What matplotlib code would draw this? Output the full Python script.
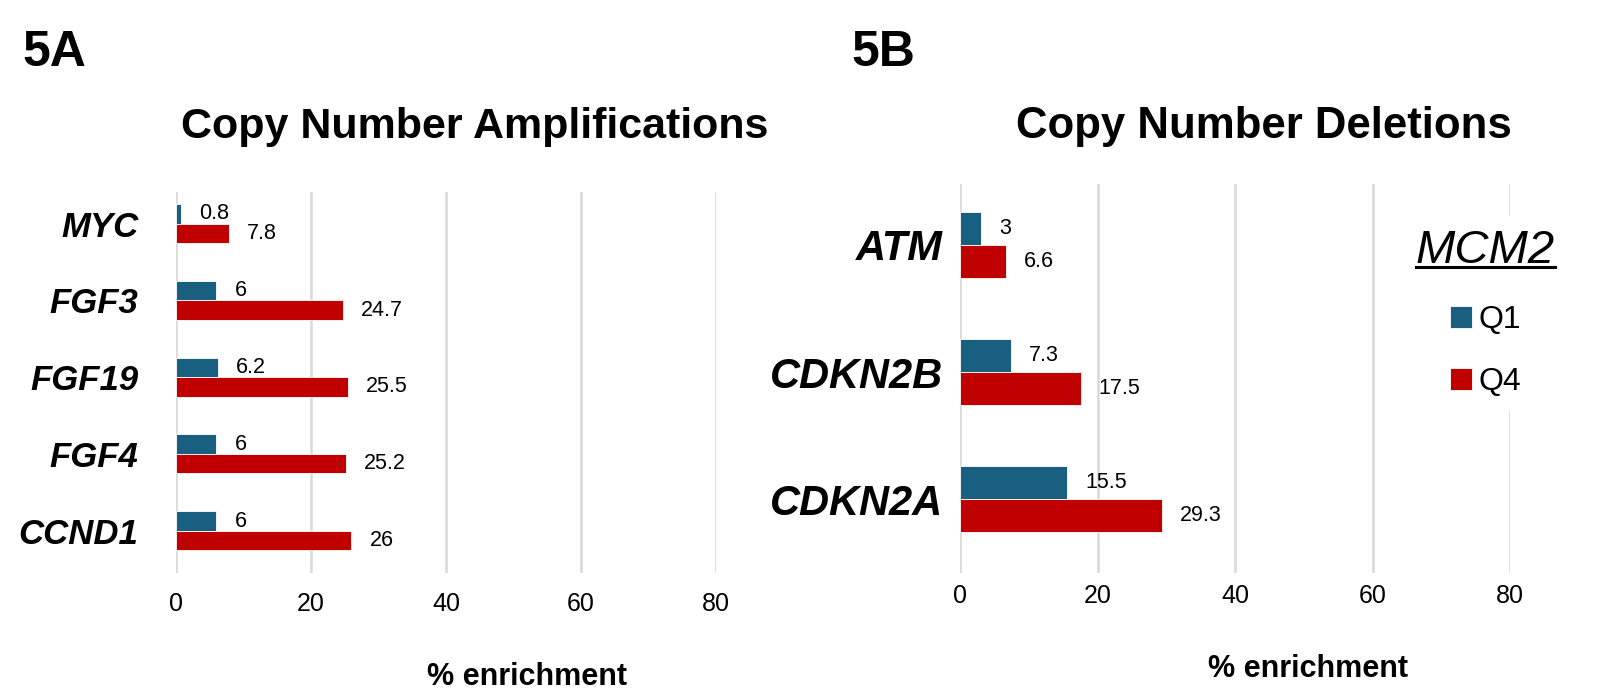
import matplotlib.pyplot as plt
import numpy as np
from matplotlib.lines import Line2D

# data
amp_genes = ['MYC', 'FGF3', 'FGF19', 'FGF4', 'CCND1']
amp_q1 = [0.8, 6, 6.2, 6, 6]
amp_q4 = [7.8, 24.7, 25.5, 25.2, 26]

del_genes = ['ATM', 'CDKN2B', 'CDKN2A']
del_q1 = [3, 7.3, 15.5]
del_q4 = [6.6, 17.5, 29.3]

x_ticks = [0, 20, 40, 60, 80]
groups = ['Q1', 'Q4']

BLUE = '#185f80'
RED = '#c00000'
GRID = '#d9d9d9'
FONT = ['Liberation Sans', 'DejaVu Sans']

fig = plt.figure(figsize=(16.04, 6.89), dpi=100)


def panel(rect, genes, q1, q4, bar_h, ylim, gene_size, gene_pad, tick_pad):
    ax = fig.add_axes(rect)
    y = np.arange(len(genes))
    b1 = ax.barh(y - bar_h / 2, q1, height=bar_h, color=BLUE, edgecolor='white',
                 linewidth=0.6, label=groups[0], zorder=3)
    b2 = ax.barh(y + bar_h / 2, q4, height=bar_h, color=RED, edgecolor='white',
                 linewidth=0.6, label=groups[1], zorder=3)
    for bars, vals in ((b1, q1), (b2, q4)):
        for r, v in zip(bars, vals):
            ax.annotate(f'{v:g}', (v, r.get_y() + r.get_height() / 2),
                        xytext=(13, 0), textcoords='offset points',
                        ha='left', va='center', fontsize=15.5, family=FONT)
    ax.set_xlim(0, 80)
    ax.set_ylim(*ylim)
    ax.set_xticks(x_ticks)
    ax.set_xticklabels([str(t) for t in x_ticks], fontsize=18, family=FONT)
    ax.set_yticks(y)
    ax.set_yticklabels(genes, fontsize=gene_size, fontweight='bold',
                       style='italic', family=FONT)
    ax.tick_params(axis='y', length=0, pad=gene_pad)
    ax.tick_params(axis='x', length=0, pad=tick_pad)
    ax.grid(axis='x', color=GRID, linewidth=1.8)
    ax.set_axisbelow(True)
    for s in ax.spines.values():
        s.set_visible(False)
    return ax


ax1 = panel([0.1097, 0.1684, 0.3367, 0.5529], amp_genes, amp_q1, amp_q4,
            0.253, (4.55, -0.41), 25, 27, 14)
ax2 = panel([0.5988, 0.1684, 0.3426, 0.5646], del_genes, del_q1, del_q4,
            0.258, (2.58, -0.48), 30, 12.5, 8)

# titles, panel letters, axis labels
fig.text(0.296, 0.7997, 'Copy Number Amplifications', ha='center', va='baseline',
         fontsize=31, fontweight='bold', family=FONT)
fig.text(0.788, 0.7997, 'Copy Number Deletions', ha='center', va='baseline',
         fontsize=31.5, fontweight='bold', family=FONT)
fig.text(0.014, 0.9035, '5A', ha='left', va='baseline', fontsize=36,
         fontweight='bold', family=FONT)
fig.text(0.5306, 0.9035, '5B', ha='left', va='baseline', fontsize=36,
         fontweight='bold', family=FONT)
fig.text(0.3286, 0.006, '% enrichment', ha='center', va='baseline',
         fontsize=22, fontweight='bold', family=FONT)
fig.text(0.8155, 0.018, '% enrichment', ha='center', va='baseline',
         fontsize=22, fontweight='bold', family=FONT)

leg = ax2.legend(loc='center', bbox_to_anchor=(0.955, 0.668), title='MCM2',
                 prop={'family': FONT, 'size': 23}, handlelength=0.7,
                 handleheight=0.7, handletextpad=0.2, labelspacing=1.0,
                 frameon=True, fancybox=False, framealpha=1, edgecolor='none',
                 borderpad=0.4)
leg.get_title().set_fontsize(34)
leg.get_title().set_fontstyle('italic')
leg.get_title().set_family(FONT)

# underline the legend title
fig.canvas.draw()
bb = leg.get_title().get_window_extent()
uy = bb.y0 + 0.14 * bb.height
fig.add_artist(Line2D([bb.x0, bb.x1], [uy, uy], color='black', linewidth=2.2,
                      transform=None))

fig.savefig('out.png', dpi=100)
